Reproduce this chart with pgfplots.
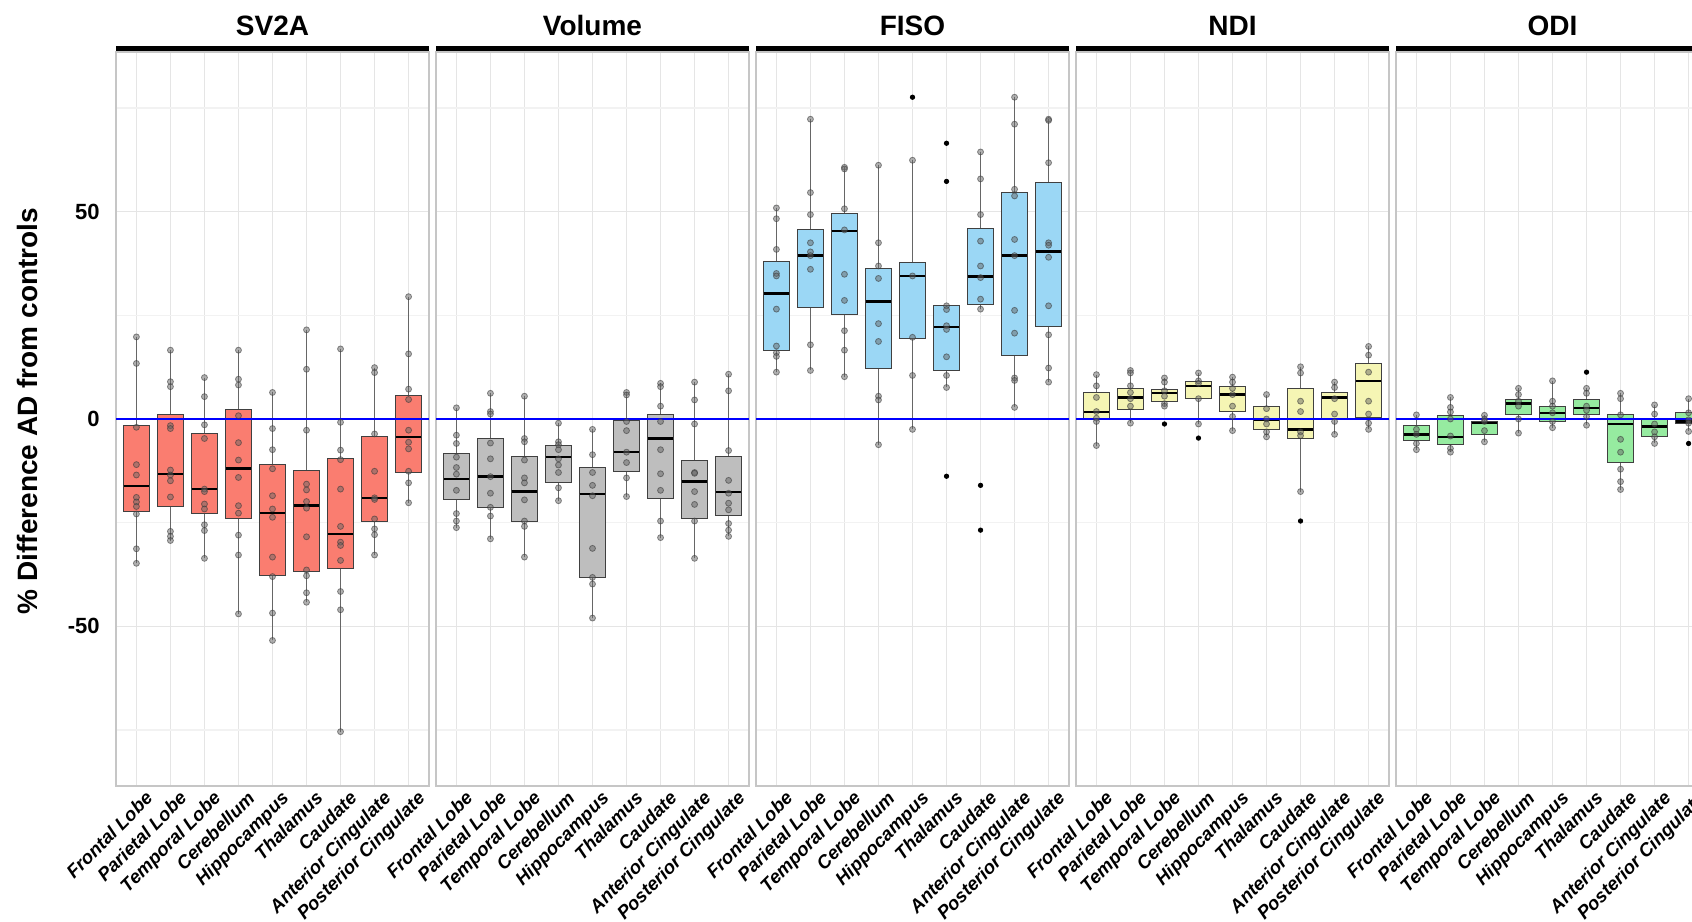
\documentclass[border=0pt]{standalone}
\usepackage{fontspec}
\setmainfont{Liberation Sans}
\usepackage{pgfplots}
\usepgfplotslibrary{statistics}
\pgfplotsset{compat=1.18}

\definecolor{cSV}{RGB}{250,125,112}
\definecolor{cVol}{RGB}{190,190,190}
\definecolor{cFI}{RGB}{155,215,245}
\definecolor{cND}{RGB}{245,245,180}
\definecolor{cOD}{RGB}{150,235,160}

\pgfplotsset{
  boxbase/.style={
    draw=black!75, line width=0.5pt,
    boxplot/draw direction=y,
    boxplot/box extend=0.75, boxplot/whisker extend=0,
    boxplot/every median/.style={draw=black, line width=1.2pt},
    boxplot/every whisker/.style={draw=black!60, line width=0.6pt},
  },
  pts/.style={only marks, mark=*, mark size=1.5pt,
    mark options={fill=black!60, draw=black!80, fill opacity=0.5, draw opacity=0.55}},
  outl/.style={only marks, mark=*, mark size=1.1pt, mark options={fill=black, draw=black}},
  facet/.style={
    scale only axis, width=156.5pt, height=367pt, anchor=south west,
    xmin=0.4, xmax=9.6, ymin=-88.5, ymax=88.5,
    xtick={1,...,9},
    xticklabels={Frontal Lobe,Parietal Lobe,Temporal Lobe,Cerebellum,Hippocampus,Thalamus,Caudate,Anterior Cingulate,Posterior Cingulate},
    ytick={-50,0,50}, minor ytick={-75,-25,25,75},
    xmajorgrids, ymajorgrids, yminorgrids,
    major grid style={draw=gray!20, line width=0.6pt},
    minor grid style={draw=gray!10, line width=0.6pt},
    axis line style={draw=gray!45, line width=0.6pt},
    major tick length=0pt, minor tick length=0pt,
    yticklabels={},
    x tick label style={font=\bfseries\itshape\fontsize{9.3}{10}\selectfont,
      rotate=45, anchor=north east, inner sep=0pt, yshift=-4pt, xshift=1.5pt},
  },
}

\newcommand{\bx}[6]{\addplot[bxst, boxplot prepared={draw position=#1,
  lower whisker=#2, lower quartile=#3, median=#4, upper quartile=#5, upper whisker=#6}] coordinates {};}
\newcommand{\zeroline}{\addplot[blue, line width=1pt] coordinates {(0.4,0) (9.6,0)};}
\newcommand{\facetstrip}[2]{%
  \draw[line width=2.5pt, black] (#1pt,436.2pt) -- ++(156.5pt,0pt);
  \node[font=\bfseries\fontsize{14}{16}\selectfont, anchor=center] at ([xshift=78.25pt]#1pt,447.75pt) {#2};}

\begin{document}
\begin{tikzpicture}
\path[use as bounding box] (0pt,0pt) rectangle (846pt,460.5pt);
\clip (0pt,0pt) rectangle (846pt,460.5pt);

% SV2A
\begin{axis}[facet, at={(58pt,67.5pt)}, bxst/.style={boxbase, fill=cSV},
  yticklabels={-50,0,50},
  y tick label style={font=\bfseries\fontsize{11}{12}\selectfont, anchor=east, inner sep=0pt, xshift=-8pt},
  /pgf/number format/assume math mode=true]
  \bx{1}{-34.8}{-22.3}{-16.2}{-1.6}{19.8}
  \bx{2}{-29.3}{-21.1}{-13.2}{1.0}{16.6}
  \bx{3}{-33.6}{-22.7}{-16.9}{-3.6}{10.0}
  \bx{4}{-47.0}{-24.1}{-11.9}{2.2}{16.6}
  \bx{5}{-53.4}{-37.8}{-22.7}{-11.0}{6.4}
  \bx{6}{-44.2}{-36.7}{-20.9}{-12.5}{21.5}
  \bx{7}{-75.4}{-36.1}{-27.7}{-9.6}{16.9}
  \bx{8}{-32.8}{-24.8}{-19.0}{-4.3}{12.4}
  \bx{9}{-20.2}{-12.9}{-4.3}{5.6}{29.5}
  \zeroline
  \addplot[pts] coordinates {
    (1,19.8) (1,13.4) (1,-2.0) (1,-11.0) (1,-13.5) (1,-18.9) (1,-20.0) (1,-21.1) (1,-22.9) (1,-31.3) (1,-34.8)
    (2,16.6) (2,9.0) (2,7.8) (2,-1.6) (2,-2.3) (2,-12.3) (2,-13.5) (2,-14.9) (2,-18.8) (2,-27.1) (2,-28.3) (2,-29.3)
    (3,10.0) (3,5.4) (3,-1.4) (3,-4.7) (3,-16.9) (3,-17.5) (3,-20.5) (3,-21.7) (3,-25.5) (3,-26.9) (3,-33.6)
    (4,16.6) (4,9.6) (4,8.2) (4,0.8) (4,-5.7) (4,-9.9) (4,-14.1) (4,-20.9) (4,-22.7) (4,-28.0) (4,-32.8) (4,-47.0)
    (5,6.4) (5,-2.3) (5,-7.4) (5,-12.0) (5,-18.5) (5,-21.7) (5,-23.7) (5,-33.3) (5,-38.0) (5,-46.8) (5,-53.4)
    (6,21.5) (6,12.0) (6,-2.7) (6,-15.7) (6,-17.1) (6,-19.9) (6,-21.5) (6,-28.4) (6,-36.4) (6,-37.8) (6,-41.9) (6,-44.2)
    (7,16.9) (7,-0.8) (7,-7.5) (7,-9.8) (7,-16.9) (7,-25.9) (7,-29.7) (7,-30.5) (7,-34.1) (7,-41.6) (7,-46.0) (7,-75.4)
    (8,12.4) (8,11.2) (8,-3.6) (8,-12.6) (8,-19.0) (8,-19.4) (8,-24.1) (8,-26.5) (8,-27.9) (8,-32.8)
    (9,29.5) (9,15.7) (9,7.2) (9,4.7) (9,-2.7) (9,-5.6) (9,-7.2) (9,-12.6) (9,-15.4) (9,-20.2)
  };
\end{axis}

% Volume
\begin{axis}[facet, at={(218pt,67.5pt)}, bxst/.style={boxbase, fill=cVol}]
  \bx{1}{-26.2}{-19.5}{-14.4}{-8.4}{2.7}
  \bx{2}{-28.9}{-21.3}{-13.9}{-4.6}{6.2}
  \bx{3}{-33.3}{-24.6}{-17.5}{-9.0}{5.5}
  \bx{4}{-19.7}{-15.4}{-9.2}{-6.4}{-1.0}
  \bx{5}{-48.0}{-38.2}{-18.1}{-11.7}{-2.5}
  \bx{6}{-18.7}{-12.6}{-8.0}{-0.4}{6.4}
  \bx{7}{-28.6}{-19.1}{-4.7}{1.0}{8.6}
  \bx{8}{-33.6}{-24.0}{-15.1}{-9.9}{8.9}
  \bx{9}{-28.3}{-23.2}{-17.6}{-9.0}{10.8}
  \zeroline
  \addplot[pts] coordinates {
    (1,2.7) (1,-3.9) (1,-5.9) (1,-9.2) (1,-11.7) (1,-13.3) (1,-17.2) (1,-22.8) (1,-24.6) (1,-26.2)
    (2,6.2) (2,1.8) (2,1.2) (2,-5.8) (2,-9.6) (2,-13.9) (2,-17.9) (2,-21.3) (2,-23.4) (2,-28.9)
    (3,5.5) (3,-4.7) (3,-5.5) (3,-9.9) (3,-14.2) (3,-15.4) (3,-19.5) (3,-24.6) (3,-25.9) (3,-33.3)
    (4,-1.0) (4,-5.5) (4,-6.2) (4,-7.4) (4,-9.6) (4,-11.1) (4,-12.9) (4,-16.6) (4,-19.7)
    (5,-2.5) (5,-8.6) (5,-12.9) (5,-16.0) (5,-18.5) (5,-31.2) (5,-38.2) (5,-39.8) (5,-48.0)
    (6,6.4) (6,5.8) (6,-0.6) (6,-2.8) (6,-8.0) (6,-10.5) (6,-14.2) (6,-18.7)
    (7,8.6) (7,7.8) (7,3.1) (7,-0.6) (7,-7.4) (7,-13.2) (7,-17.2) (7,-24.6) (7,-28.6)
    (8,8.9) (8,4.6) (8,-1.2) (8,-12.9) (8,-13.1) (8,-17.5) (8,-20.6) (8,-24.6) (8,-33.6)
    (9,10.8) (9,6.8) (9,-7.6) (9,-14.8) (9,-17.9) (9,-20.3) (9,-21.9) (9,-25.2) (9,-26.8) (9,-28.3)
  };
\end{axis}

% FISO
\begin{axis}[facet, at={(378pt,67.5pt)}, bxst/.style={boxbase, fill=cFI}]
  \bx{1}{11.3}{16.6}{30.3}{37.9}{50.9}
  \bx{2}{11.7}{26.8}{39.4}{45.8}{72.3}
  \bx{3}{10.2}{25.2}{45.3}{49.6}{60.7}
  \bx{4}{-6.2}{12.1}{28.3}{36.3}{61.2}
  \bx{5}{-2.5}{19.3}{34.5}{37.8}{62.4}
  \bx{6}{7.6}{11.7}{22.2}{27.3}{27.3}
  \bx{7}{26.5}{27.5}{34.4}{45.9}{64.4}
  \bx{8}{2.8}{15.4}{39.4}{54.6}{77.6}
  \bx{9}{8.9}{22.4}{40.4}{57.0}{72.3}
  \zeroline
  \addplot[pts] coordinates {
    (1,50.9) (1,48.3) (1,40.9) (1,35.1) (1,34.5) (1,26.5) (1,17.6) (1,16.0) (1,15.1) (1,11.3)
    (2,72.3) (2,54.6) (2,49.3) (2,42.5) (2,40.3) (2,39.4) (2,36.1) (2,17.9) (2,11.7)
    (3,60.7) (3,60.3) (3,50.7) (3,45.6) (3,34.9) (3,28.6) (3,21.3) (3,16.6) (3,10.2)
    (4,61.2) (4,42.5) (4,36.9) (4,33.9) (4,23.0) (4,18.7) (4,5.5) (4,4.6) (4,-6.2)
    (5,62.4) (5,34.5) (5,19.7) (5,10.5) (5,-2.5)
    (6,27.3) (6,26.4) (6,22.5) (6,21.6) (6,15.0) (6,10.5) (6,7.6)
    (7,64.4) (7,57.9) (7,49.3) (7,42.9) (7,36.9) (7,34.1) (7,28.9) (7,26.5)
    (8,77.6) (8,71.1) (8,55.4) (8,53.8) (8,43.3) (8,39.4) (8,26.2) (8,20.7) (8,9.9) (8,9.3) (8,2.8)
    (9,72.3) (9,72.0) (9,61.8) (9,42.5) (9,41.9) (9,39.0) (9,27.3) (9,20.3) (9,12.3) (9,8.9)
  };
  \addplot[outl] coordinates {(5,77.6) (6,66.5) (6,57.3) (6,-13.8) (7,-16.0) (7,-26.8)};
\end{axis}

% NDI
\begin{axis}[facet, at={(538pt,67.5pt)}, bxst/.style={boxbase, fill=cND}]
  \bx{1}{-6.4}{-0.2}{1.7}{6.4}{10.7}
  \bx{2}{-1.0}{2.2}{5.2}{7.4}{11.7}
  \bx{3}{3.1}{4.3}{6.2}{7.0}{9.9}
  \bx{4}{-1.2}{4.9}{8.0}{9.0}{11.1}
  \bx{5}{-2.8}{1.8}{5.9}{7.8}{10.1}
  \bx{6}{-4.3}{-2.5}{-0.2}{3.1}{5.9}
  \bx{7}{-17.5}{-4.7}{-2.5}{7.4}{12.6}
  \bx{8}{-3.7}{-0.2}{5.2}{6.4}{8.9}
  \bx{9}{-2.5}{0.4}{9.2}{13.3}{17.5}
  \zeroline
  \addplot[pts] coordinates {
    (1,10.7) (1,8.0) (1,5.2) (1,1.8) (1,0.2) (1,-0.6) (1,-6.4)
    (2,11.7) (2,11.1) (2,8.0) (2,6.4) (2,4.9) (2,3.1) (2,-1.0)
    (3,9.9) (3,8.9) (3,6.8) (3,5.5) (3,3.7) (3,3.1)
    (4,11.1) (4,9.2) (4,8.6) (4,4.9) (4,-1.2)
    (5,10.1) (5,8.9) (5,7.4) (5,5.9) (5,3.1) (5,0.6) (5,-2.8)
    (6,5.9) (6,2.5) (6,0.0) (6,-1.2) (6,-3.1) (6,-4.3)
    (7,12.6) (7,11.1) (7,4.3) (7,1.8) (7,-3.1) (7,-4.0) (7,-17.5)
    (8,8.9) (8,7.6) (8,4.9) (8,1.2) (8,-0.6) (8,-3.7)
    (9,17.5) (9,15.4) (9,11.3) (9,4.3) (9,1.2) (9,-1.0) (9,-2.5)
  };
  \addplot[outl] coordinates {(3,-1.2) (4,-4.6) (7,-24.6)};
\end{axis}

% ODI
\begin{axis}[facet, at={(698pt,67.5pt)}, bxst/.style={boxbase, fill=cOD}]
  \bx{1}{-7.4}{-5.2}{-3.7}{-1.5}{1.0}
  \bx{2}{-8.0}{-6.2}{-4.3}{0.9}{5.2}
  \bx{3}{-5.5}{-3.7}{-1.0}{-0.6}{0.9}
  \bx{4}{-3.4}{1.2}{3.7}{4.6}{7.4}
  \bx{5}{-2.1}{-0.6}{1.5}{3.1}{9.2}
  \bx{6}{-1.5}{1.0}{2.7}{4.6}{7.4}
  \bx{7}{-17.0}{-10.5}{-1.2}{1.0}{6.2}
  \bx{8}{-5.9}{-4.3}{-1.8}{0.0}{3.4}
  \bx{9}{-3.0}{-1.2}{-0.6}{1.5}{4.9}
  \zeroline
  \addplot[pts] coordinates {
    (1,1.0) (1,-2.5) (1,-3.7) (1,-5.9) (1,-7.4)
    (2,5.2) (2,2.8) (2,1.7) (2,0.0) (2,-4.1) (2,-7.1) (2,-8.0)
    (3,0.9) (3,0.0) (3,-0.6) (3,-2.8) (3,-5.5)
    (4,7.4) (4,5.9) (4,4.3) (4,3.1) (4,0.0) (4,-3.4)
    (5,9.2) (5,4.3) (5,3.1) (5,1.5) (5,-0.6) (5,-2.1)
    (6,7.4) (6,6.2) (6,3.1) (6,2.1) (6,0.6) (6,-1.5)
    (7,6.2) (7,4.9) (7,1.0) (7,-4.9) (7,-8.0) (7,-12.1) (7,-15.1) (7,-17.0)
    (8,3.4) (8,1.2) (8,-1.2) (8,-3.1) (8,-4.3) (8,-5.9)
    (9,4.9) (9,1.5) (9,-0.2) (9,-1.0) (9,-3.0)
  };
  \addplot[outl] coordinates {(6,11.3) (9,-5.9)};
\end{axis}

% strips
\facetstrip{58}{SV2A}
\facetstrip{218}{Volume}
\facetstrip{378}{FISO}
\facetstrip{538}{NDI}
\facetstrip{698}{ODI}
\node[rotate=90, font=\bfseries\fontsize{14}{16}\selectfont] at (13.5pt,255pt) {\% Difference AD from controls};
\end{tikzpicture}
\end{document}
